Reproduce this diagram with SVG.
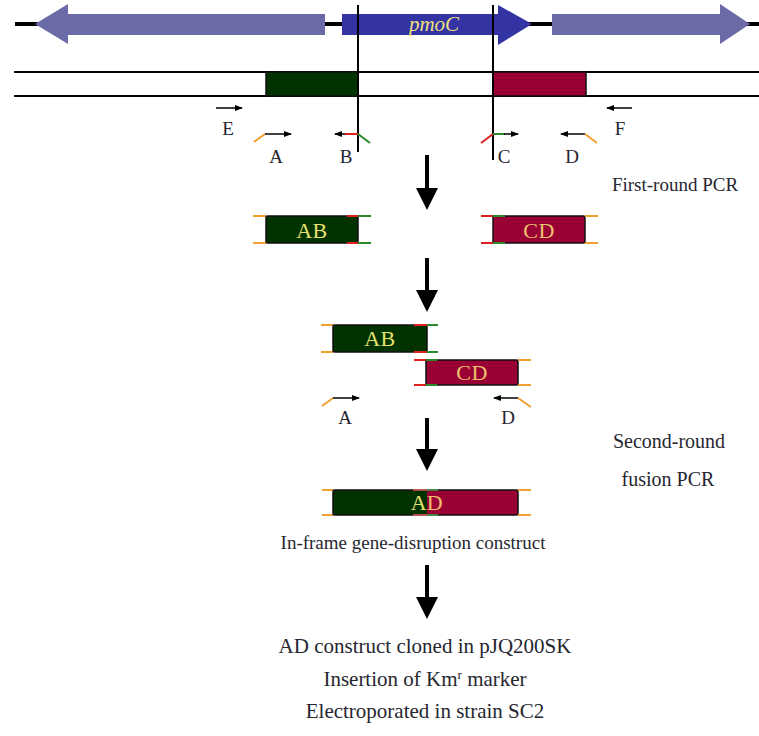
<svg xmlns="http://www.w3.org/2000/svg" width="759" height="736" viewBox="0 0 759 736">
<style>
.t{font-family:"Liberation Serif","Times New Roman",serif;fill:#262630}
.lbl{font-size:19px;text-anchor:middle}
.side{font-size:20px;text-anchor:middle}
.side19{font-size:19px;text-anchor:middle}
.cap{font-size:19px;text-anchor:middle}
.cap2{font-size:21px;text-anchor:middle}
.bx{stroke:#111;stroke-width:1.5}
.g{fill:#003300}
.r{fill:#990033}
.or{stroke:#f0a030;stroke-width:2;fill:none}
.rd{stroke:#e02020;stroke-width:2;fill:none}
.gr{stroke:#2a8a2a;stroke-width:2;fill:none}
.pr{stroke:#000;stroke-width:1.5;fill:none;marker-end:url(#sh)}
.big{fill:#000}
.inbox{font-family:"Liberation Serif","Times New Roman",serif;font-size:22px;text-anchor:middle;letter-spacing:0.5px}
</style>
<defs>
<marker id="sh" viewBox="0 0 8 8" refX="7" refY="4" markerWidth="8" markerHeight="8" markerUnits="userSpaceOnUse" orient="auto">
<path d="M0,1 L8,4 L0,7 z" fill="#000"/>
</marker>
</defs>

<g id="chromosome">
<line x1="15" y1="24" x2="759" y2="24" stroke="#000" stroke-width="4"/>
<polygon points="35,24 68,4 68,14 325,14 325,35 68,35 68,44" fill="#6b6ba8"/>
<polygon points="342,14 498,14 498,5 532,24 498,45 498,35 342,35" fill="#3333a3"/>
<polygon points="552,14 720,14 720,4 750,24 720,44 720,35 552,35" fill="#6b6ba8"/>
<text x="434" y="31" font-family="Liberation Serif,serif" font-style="italic" font-size="21" fill="#f0e080" text-anchor="middle">pmoC</text>
</g>

<g id="dna">
<line x1="14" y1="72" x2="759" y2="72" stroke="#000" stroke-width="2"/>
<line x1="14" y1="96" x2="759" y2="96" stroke="#000" stroke-width="2"/>
<rect class="bx g" x="266" y="72" width="92" height="24"/>
<rect class="bx r" x="493" y="72" width="93" height="24"/>
<line x1="358" y1="5" x2="358" y2="152" stroke="#000" stroke-width="2"/>
<line x1="493" y1="5" x2="493" y2="160" stroke="#000" stroke-width="2"/>
</g>

<g id="primers-first">
<line class="pr" x1="216" y1="108" x2="242" y2="108"/>
<text class="t lbl" x="228" y="135">E</text>
<line class="pr" x1="632" y1="108" x2="607" y2="108"/>
<text class="t lbl" x="620" y="135">F</text>
<polyline class="or" points="254,142 265,134"/>
<line class="pr" x1="265" y1="134" x2="291" y2="134"/>
<text class="t lbl" x="276" y="163">A</text>
<line class="pr" x1="346" y1="134" x2="335" y2="134"/>
<line class="rd" x1="345" y1="134" x2="358" y2="134"/>
<polyline class="gr" points="358,134 370,143"/>
<text class="t lbl" x="346" y="163">B</text>
<polyline class="rd" points="481,143 493,134"/>
<line class="gr" x1="493" y1="134" x2="505" y2="134"/>
<line class="pr" x1="504" y1="134" x2="518" y2="134"/>
<text class="t lbl" x="504" y="163">C</text>
<line class="pr" x1="585" y1="134" x2="561" y2="134"/>
<polyline class="or" points="585,134 597,143"/>
<text class="t lbl" x="572" y="163">D</text>
</g>

<g id="label-first-round">
<text class="t side19" x="675" y="191">First-round PCR</text>
</g>

<g id="product-AB">
<line class="or" x1="253" y1="216" x2="266" y2="216"/>
<line class="or" x1="253" y1="243" x2="266" y2="243"/>
<rect class="bx g" x="266" y="216" width="92" height="27" rx="1.5"/>
<line class="rd" x1="347" y1="216" x2="358" y2="216"/>
<line class="rd" x1="347" y1="243" x2="358" y2="243"/>
<line class="gr" x1="358" y1="216" x2="371" y2="216"/>
<line class="gr" x1="358" y1="243" x2="371" y2="243"/>
<text class="inbox" x="312" y="238" fill="#e8e070">AB</text>
</g>

<g id="product-CD">
<line class="rd" x1="481" y1="216" x2="493" y2="216"/>
<line class="rd" x1="481" y1="243" x2="493" y2="243"/>
<rect class="bx r" x="493" y="216" width="92" height="27" rx="1.5"/>
<line class="gr" x1="493" y1="216" x2="505" y2="216"/>
<line class="gr" x1="493" y1="243" x2="505" y2="243"/>
<line class="or" x1="585" y1="216" x2="598" y2="216"/>
<line class="or" x1="585" y1="243" x2="598" y2="243"/>
<text class="inbox" x="539" y="238" fill="#f0c070">CD</text>
</g>

<g id="fusion-AB">
<line class="or" x1="321" y1="325" x2="333" y2="325"/>
<line class="or" x1="321" y1="352" x2="333" y2="352"/>
<rect class="bx g" x="333" y="325" width="94" height="27" rx="1.5"/>
<line class="rd" x1="414" y1="325" x2="427" y2="325"/>
<line class="rd" x1="414" y1="352" x2="427" y2="352"/>
<line class="gr" x1="427" y1="325" x2="438" y2="325"/>
<line class="gr" x1="427" y1="352" x2="438" y2="352"/>
<text class="inbox" x="380" y="346" fill="#e8e070">AB</text>
</g>

<g id="fusion-CD">
<line class="rd" x1="414" y1="360" x2="426" y2="360"/>
<line class="rd" x1="414" y1="385" x2="426" y2="385"/>
<rect class="bx r" x="426" y="360" width="92" height="25" rx="1.5"/>
<line class="gr" x1="426" y1="360" x2="437" y2="360"/>
<line class="gr" x1="426" y1="385" x2="437" y2="385"/>
<line class="or" x1="518" y1="360" x2="531" y2="360"/>
<line class="or" x1="518" y1="385" x2="531" y2="385"/>
<text class="inbox" x="472" y="380" fill="#f0c070">CD</text>
</g>

<g id="primers-second">
<polyline class="or" points="322,406 333,398"/>
<line class="pr" x1="333" y1="398" x2="359" y2="398"/>
<text class="t lbl" x="345" y="424">A</text>
<line class="pr" x1="518" y1="398" x2="494" y2="398"/>
<polyline class="or" points="518,398 531,407"/>
<text class="t lbl" x="508" y="424">D</text>
</g>

<g id="label-second-round">
<text class="t side" x="669" y="448">Second-round</text>
<text class="t side" x="668" y="486">fusion PCR</text>
</g>

<g id="construct-AD">
<line class="or" x1="322" y1="490" x2="333" y2="490"/>
<line class="or" x1="322" y1="515" x2="333" y2="515"/>
<rect class="g" x="333" y="490" width="94" height="25"/>
<rect class="r" x="427" y="490" width="91" height="25"/>
<rect x="333" y="490" width="185" height="25" rx="1.5" fill="none" stroke="#111" stroke-width="1.5"/>
<line x1="413" y1="490" x2="427" y2="490" stroke="#e06060" stroke-width="1.5"/>
<line x1="413" y1="515" x2="427" y2="515" stroke="#e06060" stroke-width="1.5"/>
<line x1="427" y1="490" x2="438" y2="490" stroke="#50a050" stroke-width="1.5"/>
<line x1="427" y1="515" x2="438" y2="515" stroke="#50a050" stroke-width="1.5"/>
<line class="or" x1="518" y1="490" x2="531" y2="490"/>
<line class="or" x1="518" y1="515" x2="531" y2="515"/>
<text class="inbox" x="419" y="510" fill="#e8e070">A</text>
<text class="inbox" x="435" y="510" fill="#f0c070">D</text>
<text class="t cap" x="413" y="549">In-frame gene-disruption construct</text>
</g>

<g id="final-steps">
<text class="t cap2" x="425" y="653">AD construct cloned in pJQ200SK</text>
<text class="t cap2" x="425" y="686">Insertion of Km<tspan font-size="13" dy="-7">r</tspan><tspan dy="7"> marker</tspan></text>
<text class="t cap2" x="425" y="718">Electroporated in strain SC2</text>
</g>

<g id="connectors">
<polygon class="big" points="425,155 429,155 429,188 438,188 427,210 416,188 425,188"/>
<polygon class="big" points="425,258 429,258 429,290 438,290 427,312 416,290 425,290"/>
<polygon class="big" points="425,418 429,418 429,449 438,449 427,471 416,449 425,449"/>
<polygon class="big" points="425,565 429,565 429,597 438,597 427,619 416,597 425,597"/>
</g>
</svg>
